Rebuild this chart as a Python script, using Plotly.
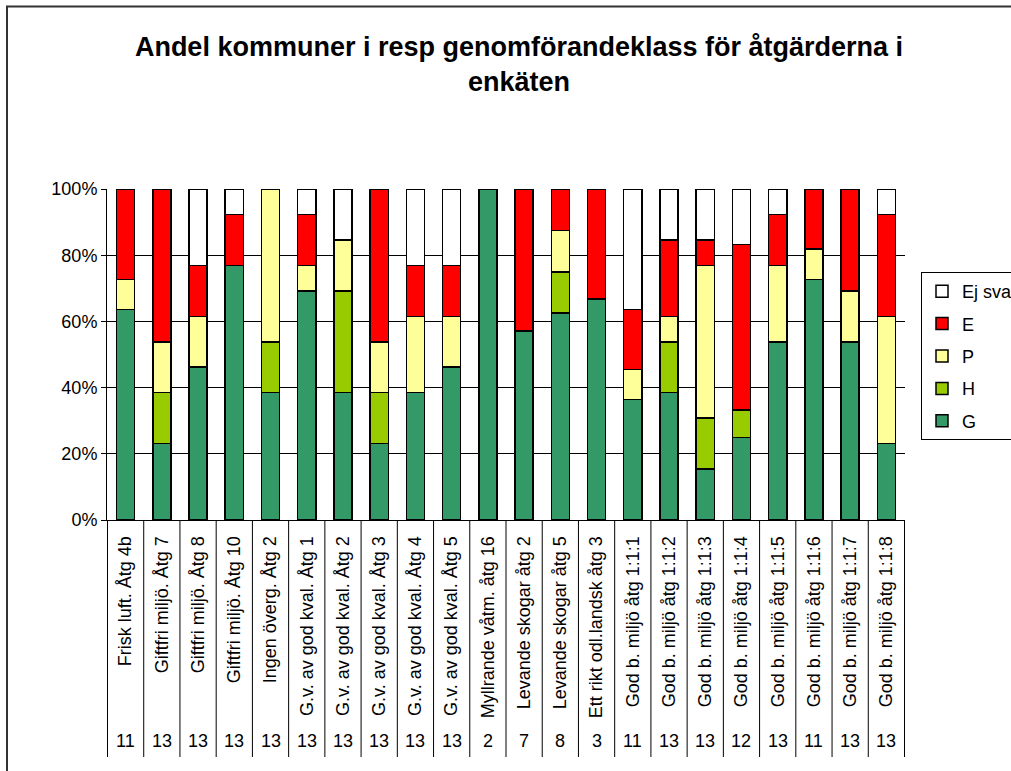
import plotly.graph_objects as go

categories = [
    "Frisk luft. Åtg 4b", "Giftfri miljö. Åtg 7", "Giftfri miljö. Åtg 8", "Giftfri miljö. Åtg 10",
    "Ingen överg. Åtg 2", "G.v. av god kval. Åtg 1", "G.v. av god kval. Åtg 2", "G.v. av god kval. Åtg 3",
    "G.v. av god kval. Åtg 4", "G.v. av god kval. Åtg 5", "Myllrande våtm. åtg 16", "Levande skogar åtg 2",
    "Levande skogar åtg 5", "Ett rikt odl.landsk åtg 3", "God b. miljö åtg 1:1:1", "God b. miljö åtg 1:1:2",
    "God b. miljö åtg 1:1:3", "God b. miljö åtg 1:1:4", "God b. miljö åtg 1:1:5", "God b. miljö åtg 1:1:6",
    "God b. miljö åtg 1:1:7", "God b. miljö åtg 1:1:8",
]
counts = [11, 13, 13, 13, 13, 13, 13, 13, 13, 13, 2, 7, 8, 3, 11, 13, 13, 12, 13, 11, 13, 13]

# percentages (segment heights)
G = [63.6, 23.1, 46.2, 76.9, 38.5, 69.2, 38.5, 23.1, 38.5, 46.2, 100, 57.1, 62.5, 66.7, 36.4, 38.5, 15.4, 25.0, 53.8, 72.7, 53.8, 23.1]
H = [0, 15.4, 0, 0, 15.4, 0, 30.8, 15.4, 0, 0, 0, 0, 12.5, 0, 0, 15.4, 15.4, 8.3, 0, 0, 0, 0]
P = [9.1, 15.4, 15.4, 0, 46.2, 7.7, 15.4, 15.4, 23.1, 15.4, 0, 0, 12.5, 0, 9.1, 7.7, 46.2, 0, 23.1, 9.1, 15.4, 38.5]
E = [27.3, 46.2, 15.4, 15.4, 0, 15.4, 0, 46.2, 15.4, 15.4, 0, 42.9, 12.5, 33.3, 18.2, 23.1, 7.7, 50.0, 15.4, 18.2, 30.8, 30.8]
EJ = [0, 0, 23.1, 7.7, 0, 7.7, 15.4, 0, 23.1, 23.1, 0, 0, 0, 0, 36.4, 15.4, 15.4, 16.7, 7.7, 0, 0, 7.7]

series = [("G", G, "#339966"), ("H", H, "#99CC00"), ("P", P, "#FFFF99"), ("E", E, "#FF0000"), ("Ej svar", EJ, "#FFFFFF")]

fig = go.Figure()
for k, (name, vals, col) in enumerate(series):
    fig.add_trace(go.Bar(
        x=categories, y=vals, name=name, legendgroup=name, legendrank=100 - k,
        marker=dict(color=col, line=dict(color="black", width=1.5)),
    ))

W, H_ = 1011, 771
L, R, T, B = 107, 106, 189, 251
ph = H_ - T - B
pw = W - L - R

fig.update_layout(
    width=W, height=H_,
    margin=dict(l=L, r=R, t=T, b=B, autoexpand=False),
    barmode="stack", barnorm="percent", bargap=0.5,
    plot_bgcolor="white", paper_bgcolor="white",
    font=dict(family="Liberation Sans, Arial, sans-serif", color="black", size=18),
    title=dict(
        text="<b>Andel kommuner i resp genomförandeklass för åtgärderna i<br>enkäten</b>",
        x=519 / W, xref="container", xanchor="center",
        y=1 - 56 / H_, yref="container", yanchor="top",
        font=dict(size=27, color="black"),
    ),
    legend=dict(
        x=(921 - L) / pw, xanchor="left", y=(T + ph - 272) / ph, yanchor="top",
        traceorder="grouped", bordercolor="black", borderwidth=1,
        font=dict(size=18), tracegroupgap=6, bgcolor="white",
    ),
    showlegend=True,
)
fig.update_xaxes(
    type="category", tickangle=-90, ticks="outside", ticklen=8, tickcolor="rgba(0,0,0,0)",
    showline=True, linecolor="black", linewidth=1, tickfont=dict(size=18),
)
fig.update_yaxes(
    range=[0, 100], dtick=20, ticksuffix="%", ticks="outside", ticklen=5, tickcolor="black",
    showline=True, linecolor="black", linewidth=1, showgrid=True, gridcolor="black", gridwidth=1,
    tickfont=dict(size=18), zeroline=False,
)

sep_bottom = -(757 - (T + ph)) / ph
shapes = []
for i in range(len(categories) + 1):
    shapes.append(dict(type="line", xref="x", yref="paper", x0=i - 0.5, x1=i - 0.5,
                       y0=0, y1=sep_bottom, line=dict(color="black", width=1)))
# outer chart border
shapes.append(dict(type="rect", xref="paper", yref="paper",
                   x0=(7 - L) / pw, x1=(W + 30 - L) / pw,
                   y0=-(H_ + 30 - (T + ph)) / ph, y1=(T + ph - 6.5) / ph,
                   line=dict(color="#333333", width=2)))
fig.update_layout(shapes=shapes)

for c, n in zip(categories, counts):
    fig.add_annotation(x=c, xref="x", y=-(741 - (T + ph)) / ph, yref="paper",
                       text=str(n), showarrow=False, font=dict(size=18), yanchor="middle")

fig.write_html("out.html", config={"displayModeBar": False},
               post_script="document.body.style.margin='0';")
